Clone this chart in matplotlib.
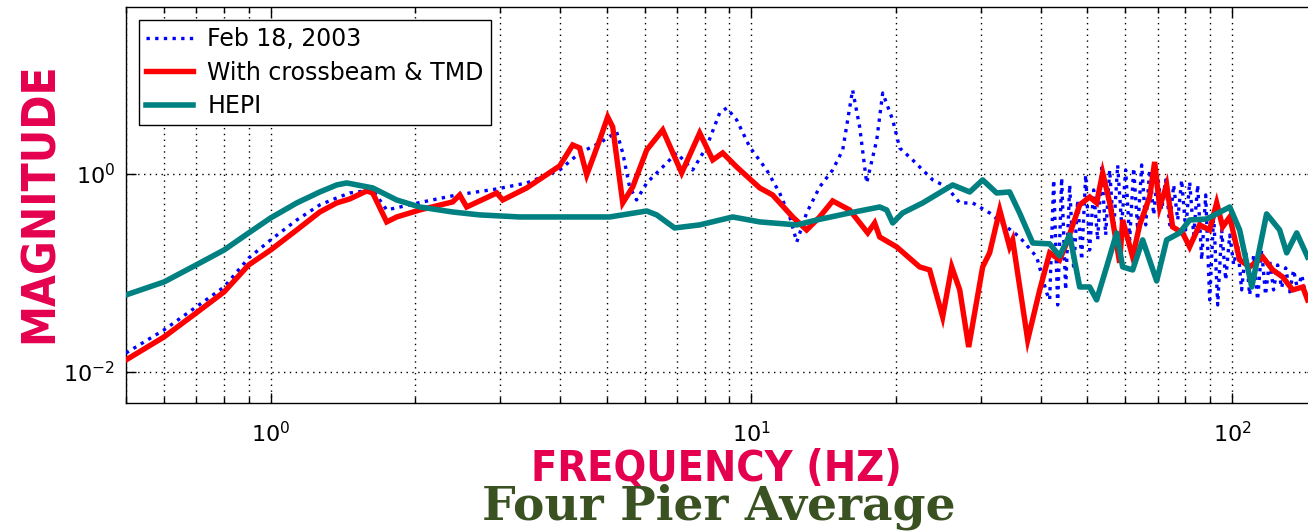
import matplotlib
matplotlib.use("Agg")
import matplotlib.pyplot as plt
from matplotlib.ticker import FixedLocator, NullLocator, LogFormatterSciNotation, LogLocator, NullFormatter

# ---------------- data ----------------
freq_feb = [0.5, 0.6, 0.7, 0.8, 0.9, 1.0, 1.133, 1.265, 1.372, 1.46, 1.63, 1.743, 2.071, 2.438,
            2.953, 3.409, 3.992, 4.393, 4.835, 5.245, 5.4, 5.58, 5.77, 6.057, 6.54, 6.99, 7.55,
            8.07, 8.59, 8.885, 9.32, 9.92, 10.76, 11.45, 12.02, 12.43, 13.03, 13.87, 14.76, 15.49,
            16.24, 16.80, 17.37, 18.23, 18.76, 19.68, 20.35, 21.65, 23.84, 25.49, 27.13, 28.87,
            31.31, 33.97, 36.14, 39.22, 41.15,
            41.74, 42.55, 43.37, 44.21, 45.06, 45.94, 46.83, 47.73, 48.66, 49.60, 50.55, 51.53,
            52.53, 53.54, 54.58, 55.64, 56.71, 57.81, 58.93, 60.07, 61.24, 62.42, 63.63, 64.86,
            66.12, 67.39, 68.70, 70.02, 71.38, 72.76, 74.17, 75.60, 77.07, 78.56, 80.08, 81.63,
            83.21, 84.82, 86.46, 88.14, 89.84, 91.58, 93.35, 95.16, 97.0, 98.9, 100.8, 102.7,
            104.7, 106.7, 108.8, 110.9, 113.0, 115.2, 117.4, 119.7, 122.0, 124.4, 126.8, 129.3,
            131.8, 134.3, 136.9, 139.6, 142.3]
mag_feb = [0.0154, 0.0264, 0.0451, 0.0718, 0.141, 0.215, 0.342, 0.486, 0.572, 0.642, 0.689, 0.432,
           0.521, 0.613, 0.705, 0.811, 1.098, 1.632, 2.06, 2.66, 1.632, 0.739, 0.545, 0.811, 1.177,
           1.632, 1.098, 1.877, 4.143, 4.656, 3.52, 1.877, 1.098, 0.642, 0.367, 0.205, 0.403, 0.739,
           1.098, 1.75, 7.08, 2.99, 0.811, 2.208, 6.60, 3.52, 1.833, 1.386, 0.870, 0.739, 0.509,
           0.509, 0.403, 0.291, 0.230, 0.1445, 0.0625,
           0.0531, 0.870, 0.0472, 0.911, 0.067, 0.774, 0.1067, 0.545, 0.135, 0.977, 0.170, 0.689,
           0.215, 1.15, 0.241, 1.098, 0.271, 1.233, 0.305, 1.098, 0.215, 1.15, 0.271, 1.233,
           0.305, 1.098, 0.385, 0.977, 0.432, 0.870, 0.305, 0.774, 0.342, 0.870, 0.271, 0.830,
           0.241, 0.774, 0.135, 0.613, 0.0531, 0.385, 0.0472, 0.271, 0.0845, 0.241, 0.120, 0.191,
           0.067, 0.170, 0.0596, 0.151, 0.0531, 0.170, 0.0596, 0.135, 0.067, 0.120, 0.0702, 0.112,
           0.064, 0.1067, 0.067, 0.095, 0.0596]

freq_tmd = [0.5, 0.6, 0.7, 0.8, 0.9, 1.0, 1.133, 1.265, 1.372, 1.46, 1.584, 1.63, 1.743, 1.829,
            2.042, 2.391, 2.473, 2.557, 2.953, 3.039, 3.409, 3.992, 4.249, 4.393, 4.544, 4.835,
            5.024, 5.146, 5.4, 5.665, 6.057, 6.54, 7.161, 7.806, 8.31, 8.716, 9.32, 10.41, 11.07,
            12.19, 13.03, 13.87, 14.76, 16.01, 17.46, 18.05, 18.49, 20.06, 22.39, 23.49, 25.0,
            26.11, 27.13, 28.32, 30.28, 31.31, 32.86, 34.45, 34.96, 37.57, 39.8, 41.74, 43.79,
            45.28, 48.19, 50.55, 52.27, 53.8, 55.66, 58.37, 59.21, 62.12, 64.24, 67.39, 69.02,
            70.69, 73.11, 75.23, 78.9, 81.6, 85.6, 89.8, 92.9, 95.6, 98.9, 103.7, 108.8, 115.8,
            121.5, 127.4, 133.7, 140.3, 143.6]
mag_tmd = [0.0131, 0.0224, 0.0392, 0.064, 0.120, 0.170, 0.271, 0.412, 0.509, 0.558, 0.673, 0.642,
           0.327, 0.367, 0.432, 0.521, 0.613, 0.463, 0.642, 0.545, 0.722, 1.205, 1.966, 1.833,
           0.977, 2.208, 3.775, 2.99, 0.509, 0.739, 1.75, 2.788, 1.024, 2.6, 1.386, 1.632, 1.177,
           0.722, 0.613, 0.367, 0.271, 0.367, 0.533, 0.432, 0.253, 0.319, 0.230, 0.1825, 0.1145,
           0.1067, 0.0357, 0.1145, 0.067, 0.0177, 0.1145, 0.159, 0.432, 0.1825, 0.215, 0.0209,
           0.067, 0.159, 0.135, 0.200, 0.486, 0.585, 0.509, 1.024, 0.509, 0.126, 0.342, 0.1445,
           0.305, 0.585, 1.323, 0.463, 0.774, 0.291, 0.253, 0.1825, 0.305, 0.271, 0.509, 0.291,
           0.367, 0.135, 0.1145, 0.1445, 0.1067, 0.0907, 0.067, 0.0718, 0.0531]

freq_hepi = [0.5, 0.6, 0.7, 0.8, 0.9, 1.0, 1.133, 1.265, 1.372, 1.439, 1.63, 1.829, 2.042, 2.391,
             2.722, 3.296, 3.992, 5.073, 6.057, 6.353, 6.924, 7.806, 9.145, 10.41, 12.43, 13.67,
             16.01, 18.49, 19.12, 19.68, 20.64, 22.72, 26.23, 28.46, 30.28, 32.38, 34.45, 36.14,
             38.48, 41.74, 43.79, 45.94, 48.19, 50.55, 52.27, 54.83, 57.54, 59.21, 62.12, 65.16,
             69.69, 73.11, 77.8, 81.6, 88.56, 98.9, 103.7, 109.9, 118.0, 125.6, 129.9, 136.3, 143.6]
mag_hepi = [0.0596, 0.0807, 0.120, 0.170, 0.253, 0.359, 0.509, 0.657, 0.774, 0.811, 0.722, 0.545,
            0.463, 0.412, 0.385, 0.367, 0.367, 0.367, 0.422, 0.385, 0.284, 0.305, 0.367, 0.327,
            0.305, 0.342, 0.403, 0.463, 0.432, 0.319, 0.403, 0.509, 0.774, 0.657, 0.870, 0.642,
            0.657, 0.403, 0.200, 0.196, 0.148, 0.241, 0.0718, 0.0718, 0.0531, 0.1145, 0.253,
            0.1145, 0.1067, 0.215, 0.0826, 0.215, 0.253, 0.342, 0.350, 0.463, 0.271, 0.0718,
            0.394, 0.271, 0.159, 0.253, 0.1445]

series_labels = ["Feb 18, 2003", "With crossbeam & TMD", "HEPI"]
y_ticks = [1e-2, 1e0]

# ---------------- figure ----------------
W, H = 1308, 531
fig = plt.figure(figsize=(W / 100, H / 100), dpi=100)
fig.patch.set_facecolor("white")
ax = fig.add_axes([126 / W, 128 / H, 1190.7 / W, 396 / H])

ax.plot(freq_feb, mag_feb, color="#0000FF", linestyle=(0, (1, 1.6)), linewidth=2.4,
        label=series_labels[0], zorder=3)
ax.plot(freq_tmd, mag_tmd, color="#FF0000", linewidth=3.9, solid_joinstyle="miter",
        label=series_labels[1], zorder=4)
ax.plot(freq_hepi, mag_hepi, color="#008080", linewidth=4.0,
        label=series_labels[2], zorder=5)

ax.set_xscale("log")
ax.set_yscale("log")
ax.set_xlim(0.5, 150)
ax.set_ylim(0.0048, 49)

ax.yaxis.set_major_locator(FixedLocator(y_ticks))
ax.yaxis.set_major_formatter(LogFormatterSciNotation())
ax.yaxis.set_minor_locator(NullLocator())
ax.xaxis.set_major_locator(LogLocator(base=10))
ax.xaxis.set_minor_locator(LogLocator(base=10, subs=range(2, 10)))
ax.xaxis.set_minor_formatter(NullFormatter())

grid_style = dict(color="black", linestyle=(0, (1, 3.2)), linewidth=1.0)
ax.grid(True, which="both", axis="x", **grid_style)
ax.grid(True, which="major", axis="y", **grid_style)
ax.set_axisbelow(True)

ax.tick_params(which="both", direction="in", top=True, right=True, width=1, colors="black")
ax.tick_params(which="major", length=7, labelsize=16, pad=8)
ax.tick_params(axis="x", which="major", pad=13)
ax.tick_params(which="minor", length=4)
for s in ax.spines.values():
    s.set_linewidth(1.0)
    s.set_color("black")

leg = ax.legend(loc="upper left", bbox_to_anchor=(139 / W, 1 - 20 / H),
                bbox_transform=fig.transFigure, borderaxespad=0, fancybox=False,
                framealpha=1, edgecolor="black", fontsize=17, handlelength=2.0,
                handletextpad=0.6, borderpad=0.3, labelspacing=0.4)
leg.get_frame().set_linewidth(1.0)

crimson = "#E4004F"
fig.text(716 / W, 1 - 469 / H, "FREQUENCY (HZ)", color=crimson, fontsize=31,
         fontweight="bold", fontstretch="condensed", ha="center", va="center",
         family="DejaVu Sans")
fig.text(40 / W, 1 - 203 / H, "MAGNITUDE", color=crimson, fontsize=33, rotation=90,
         fontweight="bold", fontstretch="condensed", ha="center", va="center",
         family="DejaVu Sans")
fig.text(719 / W, 1 - 519 / H, "Four Pier Average", color="#3A5222", fontsize=34,
         fontweight="bold", ha="center", va="baseline", family="DejaVu Serif")

fig.savefig("out.png", dpi=100, facecolor="white")
